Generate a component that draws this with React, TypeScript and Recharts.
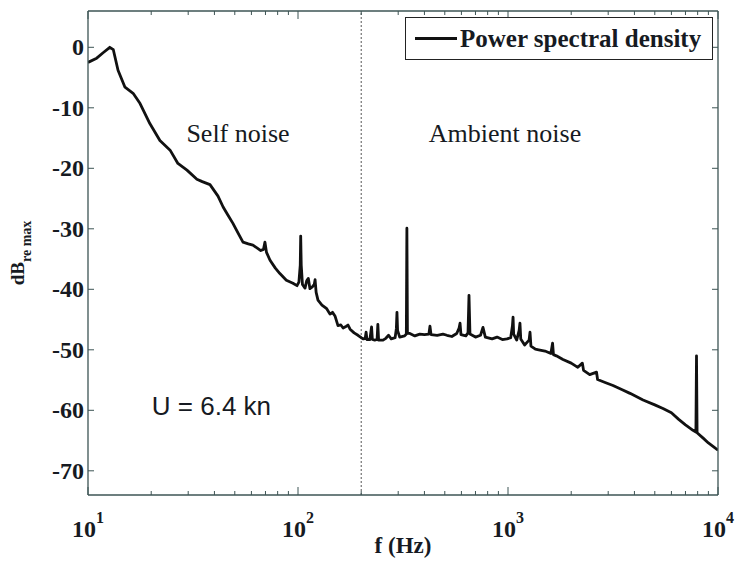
import { LineChart, Line, XAxis, YAxis, ReferenceLine, ReferenceDot, Legend } from 'recharts'

// spectrum: frequency (Hz) and level (dB re max)
const freqHz = [
  10, 11, 11.8, 12.7, 13.2, 13.9, 15, 16.4, 17.7, 19.7, 22, 24.6, 26.8, 29.6, 33, 35, 38.1, 41.6, 44, 46.5,
  49, 52, 54.7, 58, 61, 64, 66.5, 68.5, 69.6, 70.8, 73.6, 78, 82, 88, 94.6, 98.9, 101, 102.5, 103, 103.6,
  105, 108, 110, 112, 114, 117, 119.5, 120.6, 122, 124.5, 130, 137, 142, 146, 150, 155, 160, 164, 170, 173,
  177, 185, 193, 200, 205, 209, 211, 213, 220, 224, 226, 232, 238, 240, 242, 254, 262, 270, 278, 290,
  294, 296, 298, 305, 322, 328, 330, 332, 341, 360, 380, 400, 420, 425, 430, 460, 490, 512, 540, 570,
  585, 591, 597, 630, 645, 652, 659, 700, 740, 760, 780, 840, 887, 940, 989, 1030, 1050, 1057, 1064, 1100,
  1130, 1140, 1150, 1200, 1260, 1273, 1286, 1350, 1400, 1500, 1600, 1630, 1646, 1700, 1827, 2000, 2150, 2260, 2290, 2450,
  2640, 2670, 2900, 3162, 3500, 3811, 4396, 5000, 5470, 6000, 6500, 7000, 7603, 7850, 7900, 7950, 8500, 9000, 9500, 10000,
]
const psdDb = [
  -2.5, -1.8, -0.9, 0, -0.4, -3.8, -6.6, -7.6, -9.3, -12.6, -15.4, -17.0, -19.2, -20.3, -21.8, -22.2, -22.7, -24.6, -26.4, -27.8,
  -29.1, -30.8, -32.2, -32.5, -32.7, -33.2, -33.6, -33.4, -32.2, -33.9, -35.2, -36.5, -37.4, -38.5, -39.0, -39.4, -38.8, -36, -31.2, -36,
  -39.2, -39.8, -38.6, -38.2, -39.9, -39.6, -39.2, -38.4, -40.5, -41.8, -42.6, -43.2, -44.1, -43.8, -44.4, -46.0, -45.9, -46.4, -46.1, -45.9,
  -46.6, -47.2, -47.6, -48.0, -48.2, -48.1, -47.1, -48.3, -48.3, -46.2, -48.3, -48.4, -48.3, -45.8, -48.4, -48.4, -48.1, -47.6, -48.2, -48.0,
  -46.5, -43.8, -46.8, -47.9, -47.7, -47.4, -29.9, -47.3, -47.3, -47.7, -47.4, -47.5, -47.4, -46.1, -47.5, -47.6, -47.4, -47.6, -47.8, -47.3,
  -46.4, -45.6, -47.5, -47.7, -47.2, -41.0, -47.4, -47.9, -47.6, -46.3, -47.9, -48.2, -47.9, -48.3, -48.2, -48.0, -46.0, -44.6, -47.4, -48.4,
  -46.8, -45.6, -48.2, -49.2, -48.4, -47.1, -49.4, -49.9, -50.0, -50.2, -50.6, -48.9, -50.8, -51.0, -51.6, -52.2, -52.9, -52.2, -53.4, -54.1,
  -53.7, -54.9, -55.4, -55.9, -56.6, -57.2, -58.3, -59.1, -59.7, -60.4, -61.5, -62.4, -63.3, -63.6, -51.0, -63.7, -64.6, -65.4, -66.0, -66.6,
]

const xTicks = [
  10, 20, 30, 40, 50, 60, 70, 80, 90,
  100, 200, 300, 400, 500, 600, 700, 800, 900,
  1000, 2000, 3000, 4000, 5000, 6000, 7000, 8000, 9000, 10000,
]
const xDecades = [10, 100, 1000, 10000]
const yTicks = [-70, -60, -50, -40, -30, -20, -10, 0]
const boundaryHz = 200

const serif = '"Liberation Serif", "Times New Roman", serif'
const sans = '"Liberation Sans", Arial, sans-serif'
const ink = '#161a22'
const axisColor = '#3d5454'

const data = freqHz.map((f, i) => ({ f, psd: psdDb[i] }))

function BottomTick(props: any) {
  const { x, y, payload } = props
  const major = xDecades.includes(payload.value)
  return (
    <g>
      <line x1={x} x2={x} y1={y} y2={y - (major ? 8 : 4)} stroke={axisColor} strokeWidth={1} />
      {major && (
        <text x={x} y={y + 42} textAnchor="middle" fontFamily={serif} fontWeight="bold" fontSize={24} fill={ink}>
          <tspan>10</tspan>
          <tspan dy={-14} fontSize={16}>{Math.round(Math.log10(payload.value))}</tspan>
        </text>
      )}
    </g>
  )
}

function TopTick(props: any) {
  const { x, y, payload } = props
  const major = xDecades.includes(payload.value)
  return <line x1={x} x2={x} y1={y} y2={y + (major ? 8 : 4)} stroke={axisColor} strokeWidth={1} />
}

function LeftTick(props: any) {
  const { x, y, payload } = props
  return (
    <g>
      <line x1={x} x2={x + 6} y1={y} y2={y} stroke={axisColor} strokeWidth={1} />
      <text x={x - 4} y={y} dy={8} textAnchor="end" fontFamily={serif} fontWeight="bold" fontSize={24} fill={ink}>
        {payload.value}
      </text>
    </g>
  )
}

function RightTick(props: any) {
  const { x, y } = props
  return <line x1={x} x2={x - 6} y1={y} y2={y} stroke={axisColor} strokeWidth={1} />
}

const note = (text: string, family: string, size: number) => (p: any) => (
  <text x={p.viewBox.x} y={p.viewBox.y} textAnchor="middle" fontFamily={family} fontSize={size} fill={ink}>
    {text}
  </text>
)

export default function App() {
  return (
    <div style={{ position: 'absolute', left: 0, top: 0, width: 736, height: 572, background: '#fff' }}>
      <LineChart width={736} height={572} data={data} margin={{ top: 10, right: 17, bottom: 76, left: 87 }}>
        <XAxis
          dataKey="f"
          type="number"
          scale="log"
          domain={[10, 10000]}
          allowDataOverflow
          ticks={xTicks}
          interval={0}
          height={1}
          tickSize={0}
          tickMargin={0}
          tickLine={false}
          tick={<BottomTick />}
          axisLine={{ stroke: axisColor, strokeWidth: 1.3 }}
          label={{
            content: (p: any) => (
              <text
                x={p.viewBox.x + p.viewBox.width / 2}
                y={p.viewBox.y + 58}
                textAnchor="middle"
                fontFamily={serif}
                fontWeight="bold"
                fontSize={23}
                fill={ink}
              >
                f (Hz)
              </text>
            ),
          }}
        />
        <XAxis
          xAxisId="top"
          orientation="top"
          dataKey="f"
          type="number"
          scale="log"
          domain={[10, 10000]}
          allowDataOverflow
          ticks={xTicks}
          interval={0}
          height={1}
          tickSize={0}
          tickMargin={0}
          tickLine={false}
          tick={<TopTick />}
          axisLine={{ stroke: axisColor, strokeWidth: 1.3 }}
        />
        <YAxis
          type="number"
          domain={[-74, 6]}
          allowDataOverflow
          ticks={yTicks}
          interval={0}
          width={1}
          tickSize={0}
          tickMargin={0}
          tickLine={false}
          tick={<LeftTick />}
          axisLine={{ stroke: axisColor, strokeWidth: 1.3 }}
          label={{
            content: (p: any) => {
              const cx = p.viewBox.x - 63
              const cy = p.viewBox.y + p.viewBox.height / 2
              return (
                <text
                  x={cx}
                  y={cy}
                  transform={`rotate(-90 ${cx} ${cy})`}
                  textAnchor="middle"
                  fontFamily={serif}
                  fontWeight="bold"
                  fontSize={19}
                  fill={ink}
                >
                  <tspan>dB</tspan>
                  <tspan dy={7} fontSize={14}>re max</tspan>
                </text>
              )
            },
          }}
        />
        <YAxis
          yAxisId="right"
          orientation="right"
          type="number"
          domain={[-74, 6]}
          allowDataOverflow
          ticks={yTicks}
          interval={0}
          width={1}
          tickSize={0}
          tickMargin={0}
          tickLine={false}
          tick={<RightTick />}
          axisLine={{ stroke: axisColor, strokeWidth: 1.3 }}
        />
        <ReferenceLine x={boundaryHz} stroke="#555" strokeWidth={1} strokeDasharray="2 2" />
        <ReferenceDot x={51.8} y={-15.7} r={0} stroke="none" fill="none" label={note('Self noise', serif, 26)} />
        <ReferenceDot x={968} y={-15.7} r={0} stroke="none" fill="none" label={note('Ambient noise', serif, 26)} />
        <ReferenceDot x={38.7} y={-60.8} r={0} stroke="none" fill="none" label={note('U = 6.4 kn', sans, 26)} />
        <Line
          type="linear"
          dataKey="psd"
          stroke="#111"
          strokeWidth={2.8}
          strokeLinejoin="round"
          dot={false}
          isAnimationActive={false}
        />
        <Legend
          layout="horizontal"
          verticalAlign="middle"
          align="center"
          wrapperStyle={{ left: 405, top: 17, width: 308, height: 43 }}
          content={() => (
            <div
              style={{
                boxSizing: 'border-box',
                width: 308,
                height: 43,
                border: '1.5px solid #222',
                background: '#fff',
                display: 'flex',
                alignItems: 'center',
              }}
            >
              <div style={{ width: 42, height: 3, background: '#111', marginLeft: 9, marginRight: 3 }} />
              <span style={{ fontFamily: serif, fontWeight: 'bold', fontSize: 25, color: ink, lineHeight: 1 }}>
                Power spectral density
              </span>
            </div>
          )}
        />
      </LineChart>
    </div>
  )
}
